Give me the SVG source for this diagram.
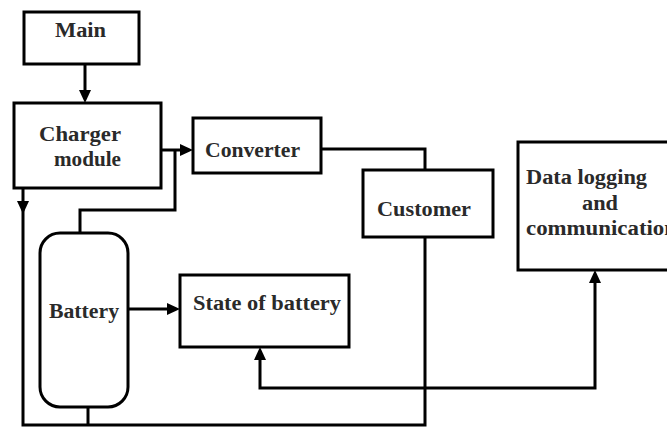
<svg xmlns="http://www.w3.org/2000/svg" width="667" height="427" viewBox="0 0 667 427">
<style>
.box{fill:#fff;stroke:#000;stroke-width:3}
.ln{fill:none;stroke:#000;stroke-width:3}
.ah{fill:#000}
text{font-family:"Liberation Serif","Times New Roman",serif;font-weight:bold;font-size:20px;fill:#2a2a2a}
</style>
<rect width="667" height="427" fill="#fff"/>
<g id="connectors">
<path class="ln" d="M85,64 V92"/>
<polygon class="ah" points="85,103 79,90 91,90"/>
<path class="ln" d="M161,150 H182"/>
<polygon class="ah" points="193,150 180,144 180,156"/>
<path class="ln" d="M175,150 V210 H80 V233"/>
<path class="ln" d="M321,149 H425 V170"/>
<path class="ln" d="M23,188 V425 H425 V237"/>
<polygon class="ah" points="23,214 17,201 29,201"/>
<path class="ln" d="M88,407 V425"/>
<path class="ln" d="M128,309 H169"/>
<polygon class="ah" points="180,309 167,303 167,315"/>
<path class="ln" d="M260,358 V388 H595 V281"/>
<polygon class="ah" points="260,347 254,360 266,360"/>
<polygon class="ah" points="595,270 589,283 601,283"/>
</g>
<g id="main">
<rect class="box" x="24" y="12" width="115" height="52"/>
<text x="55" y="37" textLength="51" lengthAdjust="spacingAndGlyphs">Main</text>
</g>
<g id="charger">
<rect class="box" x="14" y="103" width="147" height="85"/>
<text x="39" y="141" textLength="82" lengthAdjust="spacingAndGlyphs">Charger</text>
<text x="54" y="166" textLength="67" lengthAdjust="spacingAndGlyphs">module</text>
</g>
<g id="converter">
<rect class="box" x="193" y="118" width="128" height="55"/>
<text x="205" y="157" textLength="95" lengthAdjust="spacingAndGlyphs">Converter</text>
</g>
<g id="customer">
<rect class="box" x="363" y="170" width="130" height="67"/>
<text x="377" y="216" textLength="94" lengthAdjust="spacingAndGlyphs">Customer</text>
</g>
<g id="data">
<rect class="box" x="518" y="142" width="200" height="128"/>
<text x="526" y="184" textLength="121" lengthAdjust="spacingAndGlyphs">Data logging</text>
<text x="582" y="210" textLength="36" lengthAdjust="spacingAndGlyphs">and</text>
<text x="526" y="235" textLength="151" lengthAdjust="spacingAndGlyphs">communication</text>
</g>
<g id="battery">
<rect class="box" x="40" y="233" width="88" height="174" rx="20" ry="20"/>
<text x="49" y="318" textLength="70" lengthAdjust="spacingAndGlyphs">Battery</text>
</g>
<g id="state">
<rect class="box" x="180" y="275" width="169" height="72"/>
<text x="193" y="310" textLength="148" lengthAdjust="spacingAndGlyphs">State of battery</text>
</g>
</svg>
